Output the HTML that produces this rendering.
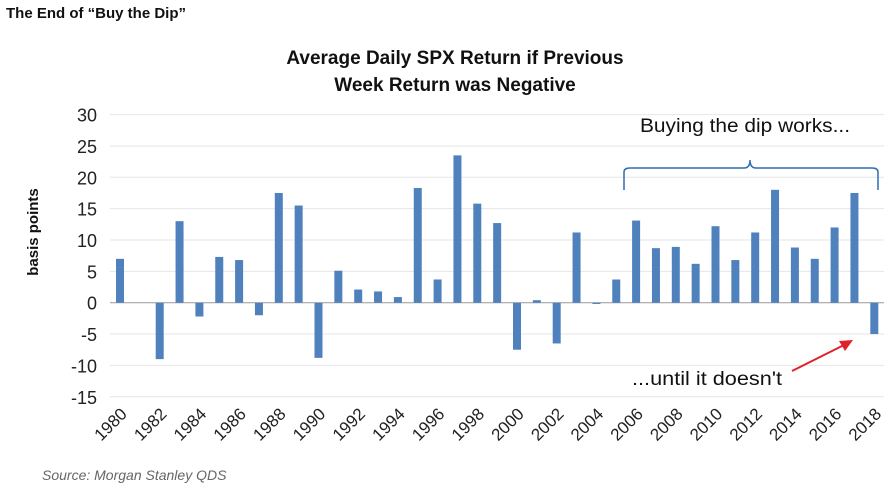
<!DOCTYPE html>
<html><head><meta charset="utf-8"><style>
body{margin:0;background:#fff;width:890px;height:490px;overflow:hidden;font-family:"Liberation Sans",sans-serif}
</style></head><body>
<svg width="890" height="490" id="c">
<text x="6" y="18" font-size="15" font-weight="bold" fill="#111">The End of “Buy the Dip”</text>
<text x="455" y="64" font-size="19" font-weight="bold" text-anchor="middle" fill="#111">Average Daily SPX Return if Previous</text>
<text x="455" y="91" font-size="19" font-weight="bold" text-anchor="middle" fill="#111">Week Return was Negative</text>
<text transform="translate(38,232) rotate(-90)" font-size="15" font-weight="bold" text-anchor="middle" fill="#111">basis points</text>
<text x="42" y="480" font-size="14" font-style="italic" fill="#666">Source: Morgan Stanley QDS</text>
<g id="grid"></g><g id="bars"></g><g id="xl"></g>
<path d="M624,190 L624,172 Q624,168 630,168 L744,168 Q750,168 750,160 Q750,168 756,168 L872,168 Q878,168 878,172 L878,190" fill="none" stroke="#2e6db4" stroke-width="1.5"/>
<text x="640" y="132" font-size="19" textLength="210" lengthAdjust="spacingAndGlyphs" fill="#111">Buying the dip works...</text>
<text x="632" y="385" font-size="19" textLength="150" lengthAdjust="spacingAndGlyphs" fill="#111">...until it doesn't</text>
<line x1="792" y1="371" x2="844" y2="345" stroke="#e0202a" stroke-width="2"/>
<polygon points="853,340 839,341 845,351" fill="#e0202a"/>
</svg>
<script>
const years=[];for(let y=1980;y<=2018;y++)years.push(y);
const values=[7,0,-9,13,-2.2,7.3,6.8,-2,17.5,15.5,-8.8,5.1,2.1,1.8,0.9,18.3,3.7,23.5,15.8,12.7,-7.5,0.4,-6.5,11.2,-0.2,3.7,13.1,8.7,8.9,6.2,12.2,6.8,11.2,18,8.8,7,12,17.5,-5];
const yTicks=[30,25,20,15,10,5,0,-5,-10,-15];
const NS="http://www.w3.org/2000/svg";
const yS=v=>302.7-v*6.27;
const xS=i=>120+i*19.85;
function mk(t,a,p){const e=document.createElementNS(NS,t);for(const k in a)e.setAttribute(k,a[k]);document.getElementById(p).appendChild(e);return e;}
yTicks.forEach(v=>{
 const l=mk('line',{x1:110,x2:884,y1:yS(v),y2:yS(v),stroke:v===0?'#999':'#e6e6e6','stroke-width':1},'grid');
 
 
 const t=mk('text',{x:97,y:yS(v)+7,'font-size':18,'text-anchor':'end',fill:'#222'},'grid');t.textContent=v;
 
 
});
values.forEach((v,i)=>{
 const r=mk('rect',{x:xS(i)-4,y:Math.min(yS(v),yS(0)),width:8,height:Math.abs(yS(v)-yS(0)),fill:'#4f81bd'},'bars');
 
 
});
years.forEach((y,i)=>{if(i%2)return;
 const t=mk('text',{transform:`translate(${xS(i)+8},${415}) rotate(-45)`,'font-size':17,'text-anchor':'end',fill:'#222'},'xl');t.textContent=y;
 
 
});
</script>
</body></html>
